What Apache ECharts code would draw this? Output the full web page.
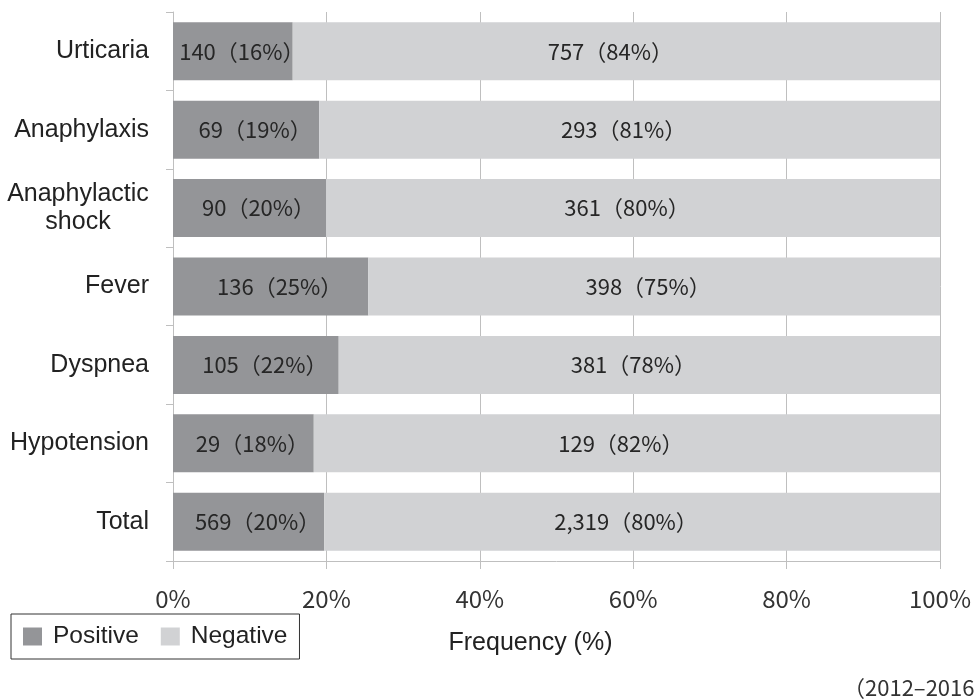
<!DOCTYPE html>
<html>
<head>
<meta charset="utf-8">
<script src="https://cdn.jsdelivr.net/npm/echarts@6/dist/echarts.min.js"></script>
<style>html,body{margin:0;padding:0;background:#fff;}#c{width:974px;height:700px;}</style>
</head>
<body>
<div id="c"></div>
<script>
const categories = ['Urticaria', 'Anaphylaxis', 'Anaphylactic\nshock', 'Fever', 'Dyspnea', 'Hypotension', 'Total'];
const positiveCounts = [140, 69, 90, 136, 105, 29, 569];
const negativeCounts = [757, 293, 361, 398, 381, 129, 2319];
const positivePctLabels = [16, 19, 20, 25, 22, 18, 20];
const negativePctLabels = [84, 81, 80, 75, 78, 82, 80];
const xTicks = [0, 20, 40, 60, 80, 100];
const periodNote = '（2012–2016）';

const totals = positiveCounts.map((p, i) => p + negativeCounts[i]);
const posShare = positiveCounts.map((p, i) => p / totals[i] * 100);
const negShare = negativeCounts.map((n, i) => n / totals[i] * 100);

const cjk = '"Noto Sans CJK JP", "Noto Sans", sans-serif';
const sans = '"Liberation Sans", Arial, sans-serif';
const fmt = v => v.toLocaleString('en-US');

const chart = echarts.init(document.getElementById('c'), null, {renderer: 'canvas'});
chart.setOption({
  animation: false,
  backgroundColor: '#fff',
  grid: {left: 173, right: 33, top: 12, bottom: 139, containLabel: false},
  legend: {
    left: 11, top: 614,
    data: ['Positive', 'Negative'],
    icon: 'rect',
    itemWidth: 19, itemHeight: 18,
    itemGap: 22,
    borderColor: '#333', borderWidth: 1,
    padding: [10, 12, 10, 12],
    textStyle: {fontFamily: sans, fontSize: 24.5, color: '#222', padding: [0, 0, 0, 6]}
  },
  xAxis: {
    type: 'value', min: 0, max: 100, interval: 20,
    axisLine: {show: true, lineStyle: {color: '#bfbfbf', width: 1}},
    axisTick: {show: true, length: 8, lineStyle: {color: '#bfbfbf'}},
    splitLine: {show: true, lineStyle: {color: '#bfbfbf', width: 1}},
    axisLabel: {
      margin: 26, fontFamily: cjk, fontSize: 24, color: '#333',
      formatter: v => xTicks.includes(v) ? v + '%' : ''
    },
    name: 'Frequency (%)', nameLocation: 'middle', nameGap: 70,
    nameTextStyle: {fontFamily: sans, fontSize: 25, color: '#222', padding: [0, 52, 0, 0]}
  },
  yAxis: {
    type: 'category', data: categories, inverse: true,
    axisLine: {show: true, lineStyle: {color: '#bfbfbf', width: 1}},
    axisTick: {show: true, length: 7, lineStyle: {color: '#bfbfbf'}},
    splitLine: {show: false},
    axisLabel: {
      margin: 24, fontFamily: sans, fontSize: 25, color: '#222', lineHeight: 28,
      formatter: v => v.includes('\n') ? v.split('\n').map(s => '{c|' + s + '}').join('\n') : v,
      rich: {c: {width: 142, align: 'center', fontFamily: sans, fontSize: 25, color: '#222', lineHeight: 28}}
    }
  },
  series: [
    {
      name: 'Positive', type: 'bar', stack: 'all', barWidth: 58,
      data: posShare,
      itemStyle: {color: '#949598'},
      label: {
        show: true, position: 'inside', offset: [9, 0], fontFamily: cjk, fontSize: 22, color: '#262626',
        formatter: p => fmt(positiveCounts[p.dataIndex]) + '（' + positivePctLabels[p.dataIndex] + '%）'
      }
    },
    {
      name: 'Negative', type: 'bar', stack: 'all', barWidth: 58,
      data: negShare,
      itemStyle: {color: '#d1d2d4'},
      label: {
        show: true, position: 'inside', offset: [-6, 0], fontFamily: cjk, fontSize: 22, color: '#262626',
        formatter: p => fmt(negativeCounts[p.dataIndex]) + '（' + negativePctLabels[p.dataIndex] + '%）'
      }
    }
  ],
  graphic: [
    {type: 'text', x: 843, y: 688, style: {text: periodNote, fontFamily: cjk, fontSize: 22, fill: '#333', verticalAlign: 'middle', align: 'left'}}
  ]
});
</script>
</body>
</html>
